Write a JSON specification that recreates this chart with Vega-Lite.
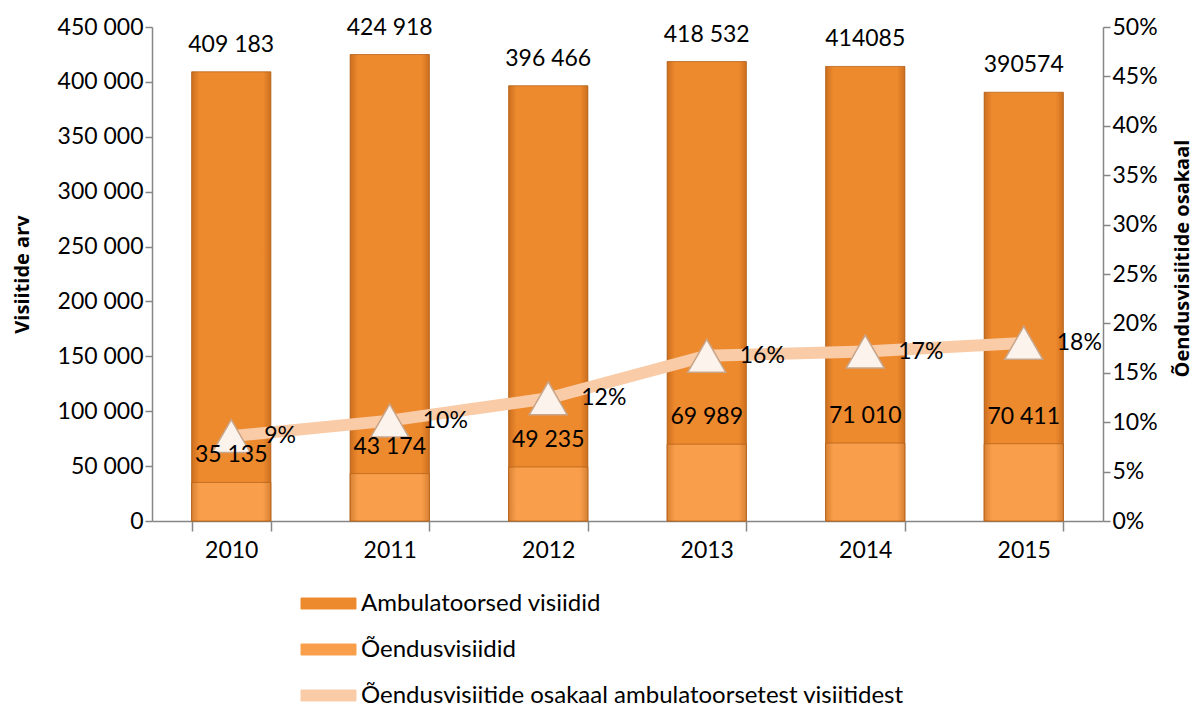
{
  "$schema": "https://vega.github.io/schema/vega-lite/v6.json",
  "width": 951,
  "height": 494,
  "autosize": {"type": "none"},
  "padding": {"left": 152, "top": 27, "right": 97, "bottom": 188},
  "background": "white",
  "config": {
    "font": "Lato",
    "view": {"stroke": null},
    "axis": {"labelFont": "Lato", "labelFontSize": 23, "labelColor": "#000000", "domainColor": "#868686", "tickColor": "#868686", "domainWidth": 1.5, "tickWidth": 1.5, "grid": false, "titleFont": "Open Sans", "titleFontSize": 20, "titleFontWeight": "bold", "titleColor": "#000000"}
  },
  "data": {
    "values": [
      {"year": "2010", "amb": 409183, "oend": 35135, "share": 0.0859, "ambLabel": "409 183", "oendLabel": "35 135", "shareLabel": "9%"},
      {"year": "2011", "amb": 424918, "oend": 43174, "share": 0.1016, "ambLabel": "424 918", "oendLabel": "43 174", "shareLabel": "10%"},
      {"year": "2012", "amb": 396466, "oend": 49235, "share": 0.1242, "ambLabel": "396 466", "oendLabel": "49 235", "shareLabel": "12%"},
      {"year": "2013", "amb": 418532, "oend": 69989, "share": 0.1672, "ambLabel": "418 532", "oendLabel": "69 989", "shareLabel": "16%"},
      {"year": "2014", "amb": 414085, "oend": 71010, "share": 0.1715, "ambLabel": "414085", "oendLabel": "71 010", "shareLabel": "17%"},
      {"year": "2015", "amb": 390574, "oend": 70411, "share": 0.1803, "ambLabel": "390574", "oendLabel": "70 411", "shareLabel": "18%"}
    ]
  },
  "encoding": {
    "x": {
      "field": "year", "type": "ordinal",
      "scale": {"paddingInner": 0.5, "paddingOuter": 0.25},
      "axis": {"title": null, "labelAngle": 0, "tickBand": "extent", "tickSize": 10, "labelPadding": 8, "ticks": true}
    }
  },
  "layer": [
    {
      "layer": [
        {
          "mark": {"type": "bar", "stroke": "#B8651C", "strokeWidth": 0.8},
          "encoding": {
            "y": {"field": "amb", "type": "quantitative",
              "scale": {"domain": [0, 450000]},
              "axis": {"title": "Visiitide arv", "titleFont": "Open Sans", "titleFontWeight": "bold", "values": [0, 50000, 100000, 150000, 200000, 250000, 300000, 350000, 400000, 450000], "labelExpr": "replace(format(datum.value, ','), ',', ' ')", "tickSize": 7, "titleX": -130, "titleBaseline": "middle"}},
            "color": {"datum": "Ambulatoorsed  visiidid", "type": "nominal",
              "scale": {"domain": ["Ambulatoorsed  visiidid", "Õendusvisiidid", "Õendusvisiitide osakaal ambulatoorsetest visiitidest"], "range": ["#EE8A2E", "#F99F4B", "#F9CBA7"]},
              "legend": {
                "title": null, "orient": "none", "legendX": 162, "legendY": 562, "direction": "vertical",
                "rowPadding": 19, "labelFontSize": 24, "labelFont": "Lato", "labelColor": "#000000", "labelOffset": 18, "labelLimit": 800,
                "symbolType": "M-2,-0.4H2V0.4H-2Z", "symbolSize": 756, "symbolStrokeWidth": 1,
                "symbolStrokeColor": "#B8651C", "symbolOpacity": 1,
                "encode": {"symbols": {"update": {"fill": {"scale": "color", "field": "value"}, "fillOpacity": {"value": 1}}}}
              }}
          }
        },
        {
          "mark": {"type": "bar", "color": {"gradient": "linear", "x1": 0, "x2": 1, "y1": 0, "y2": 0, "stops": [{"offset": 0, "color": "rgba(140,60,0,0.35)"}, {"offset": 0.1, "color": "rgba(140,60,0,0)"}, {"offset": 0.9, "color": "rgba(140,60,0,0)"}, {"offset": 1, "color": "rgba(140,60,0,0.35)"}]}},
          "encoding": {
            "y": {"field": "amb", "type": "quantitative"}
          }
        },
        {
          "mark": {"type": "bar", "stroke": "#B8651C", "strokeWidth": 0.8},
          "encoding": {
            "y": {"field": "oend", "type": "quantitative"},
            "color": {"datum": "Õendusvisiidid", "type": "nominal"}
          }
        },
        {
          "mark": {"type": "bar", "color": {"gradient": "linear", "x1": 0, "x2": 1, "y1": 0, "y2": 0, "stops": [{"offset": 0, "color": "rgba(140,60,0,0.3)"}, {"offset": 0.1, "color": "rgba(140,60,0,0)"}, {"offset": 0.9, "color": "rgba(140,60,0,0)"}, {"offset": 1, "color": "rgba(140,60,0,0.3)"}]}},
          "encoding": {
            "y": {"field": "oend", "type": "quantitative"}
          }
        }
      ]
    },
    {
      "layer": [
        {
          "mark": {"type": "line", "strokeWidth": 12, "strokeCap": "round"},
          "encoding": {
            "y": {"field": "share", "type": "quantitative",
              "scale": {"domain": [0, 0.5]},
              "axis": {"title": "Õendusvisiitide osakaal", "titleFont": "Open Sans", "titleFontWeight": "bold", "orient": "right", "format": ".0%", "values": [0, 0.05, 0.1, 0.15, 0.2, 0.25, 0.3, 0.35, 0.4, 0.45, 0.5], "tickSize": 7, "titleAngle": -90, "titleX": 79, "titleY": 231, "titleBaseline": "middle"}},
            "color": {"datum": "Õendusvisiitide osakaal ambulatoorsetest visiitidest", "type": "nominal"}
          }
        },
        {
          "mark": {"type": "point", "shape": "triangle-up", "size": 1450, "filled": true, "fill": "#FCF4EC", "stroke": "#C9A58A", "strokeWidth": 1.5, "opacity": 1},
          "encoding": {
            "y": {"field": "share", "type": "quantitative"}
          }
        },
        {
          "mark": {"type": "text", "fontSize": 23, "font": "Lato", "align": "left", "dx": 33, "baseline": "middle", "color": "#000000"},
          "encoding": {
            "y": {"field": "share", "type": "quantitative"},
            "text": {"field": "shareLabel"}
          }
        }
      ]
    },
    {
      "layer": [
        {
          "mark": {"type": "text", "fontSize": 23, "font": "Lato", "dy": -27, "baseline": "middle", "color": "#000000"},
          "encoding": {
            "y": {"field": "amb", "type": "quantitative", "scale": {"domain": [0, 450000]}, "axis": null},
            "text": {"field": "ambLabel"}
          }
        },
        {
          "mark": {"type": "text", "fontSize": 23, "font": "Lato", "dy": -27, "baseline": "middle", "color": "#000000"},
          "encoding": {
            "y": {"field": "oend", "type": "quantitative"},
            "text": {"field": "oendLabel"}
          }
        }
      ]
    }
  ],
  "resolve": {"scale": {"y": "independent"}}
}
